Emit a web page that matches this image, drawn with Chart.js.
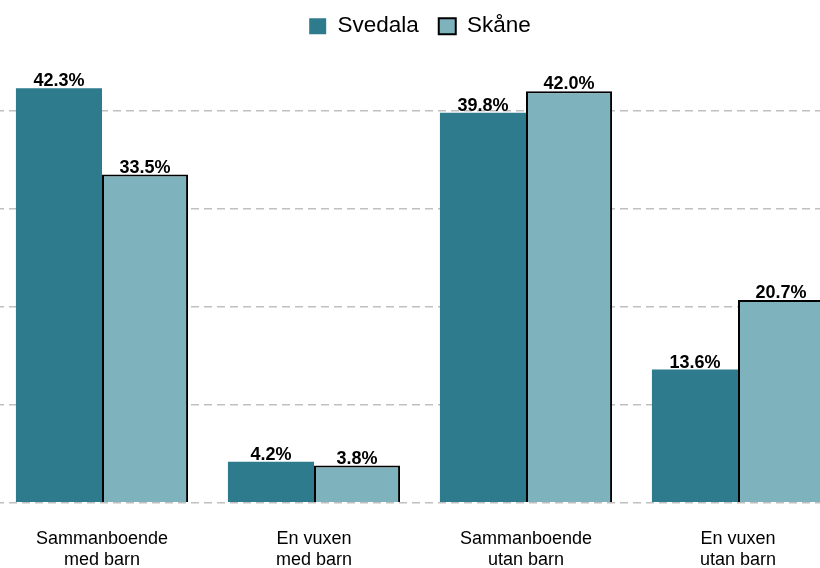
<!DOCTYPE html>
<html>
<head>
<meta charset="utf-8">
<script src="https://cdn.jsdelivr.net/npm/chart.js@4"></script>
<style>
  html, body { margin: 0; padding: 0; background: #fff; overflow: hidden; }
  #wrap { position: absolute; left: -4px; top: 0; width: 848px; height: 598px; }
</style>
</head>
<body>
<div id="wrap"><canvas id="chart"></canvas></div>
<script>
// Категории и значения
const categories = [
    ['Sammanboende', 'med barn'],
    ['En vuxen', 'med barn'],
    ['Sammanboende', 'utan barn'],
    ['En vuxen', 'utan barn']
];
const svedalaValues = [42.3, 4.2, 39.8, 13.6];
const skaneValues = [33.5, 3.8, 42.0, 20.7];
const seriesNames = ['Svedala', 'Skåne'];

const colors = {
    dark: '#2E7B8D',
    light: '#7EB2BD',
    grid: '#C0C0C0',
    text: '#000000'
};

const fontFamily = '"Liberation Sans", Arial, sans-serif';

// Подписи значений над столбцами
const valueLabels = {
    id: 'valueLabels',
    afterDatasetsDraw(chart) {
        const ctx = chart.ctx;
        ctx.save();
        ctx.font = 'bold 18px ' + fontFamily;
        ctx.fillStyle = colors.text;
        ctx.textAlign = 'center';
        ctx.textBaseline = 'alphabetic';
        chart.data.datasets.forEach((ds, i) => {
            chart.getDatasetMeta(i).data.forEach((bar, j) => {
                ctx.fillText(ds.data[j].toFixed(1) + '%', bar.x, bar.y - 2);
            });
        });
        ctx.restore();
    }
};

new Chart(document.getElementById('chart').getContext('2d'), {
    type: 'bar',
    data: {
        labels: categories,
        datasets: [{
            label: seriesNames[0],
            data: svedalaValues,
            backgroundColor: colors.dark,
            borderWidth: 0,
            categoryPercentage: 0.812,
            barPercentage: 1.0
        }, {
            label: seriesNames[1],
            data: skaneValues,
            backgroundColor: colors.light,
            borderColor: '#000',
            borderWidth: 2,
            categoryPercentage: 0.812,
            barPercentage: 1.0
        }]
    },
    options: {
        responsive: true,
        maintainAspectRatio: false,
        animation: false,
        layout: { padding: { top: -5, bottom: 2, left: 0, right: 0 } },
        plugins: {
            legend: {
                display: true,
                position: 'top',
                labels: {
                    boxWidth: 17,
                    boxHeight: 16,
                    padding: 20,
                    color: colors.text,
                    font: { family: fontFamily, size: 22.5 }
                }
            },
            tooltip: { enabled: false }
        },
        scales: {
            x: {
                grid: { display: false, drawTicks: false },
                border: { display: false },
                ticks: {
                    color: colors.text,
                    padding: 25,
                    font: { family: fontFamily, size: 18, lineHeight: 1.2 }
                }
            },
            y: {
                min: 0,
                max: 46.47,
                ticks: { display: false, stepSize: 10 },
                grid: {
                    drawTicks: false,
                    lineWidth: 1.5,
                    color: (c) => (c.tick && c.tick.value % 10 === 0) ? colors.grid : 'rgba(0,0,0,0)'
                },
                border: { display: false, dash: [8, 5] }
            }
        }
    },
    plugins: [valueLabels]
});
</script>
</body>
</html>
